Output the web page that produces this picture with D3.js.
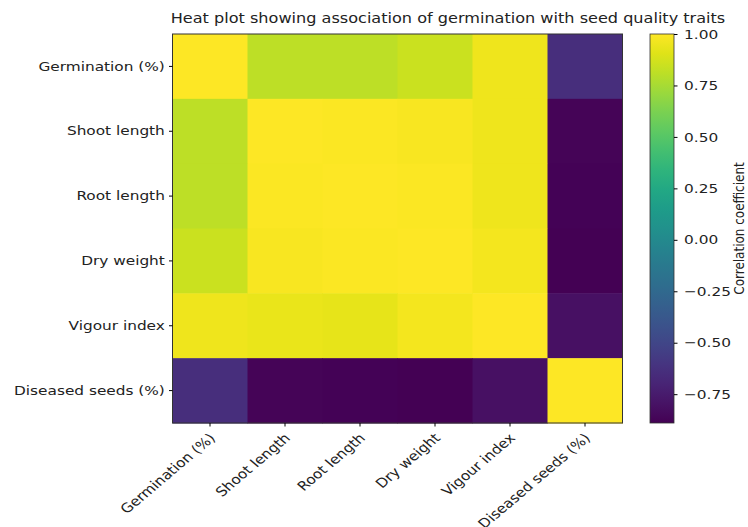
<!DOCTYPE html>
<html><head><meta charset="utf-8">
<script src="https://cdn.jsdelivr.net/npm/d3@7"></script>
<style>body{margin:0;background:#fff;} svg{display:block;} text{font-family:"DejaVu Sans",sans-serif;fill:#222;}</style>
</head><body><svg id="c" width="748" height="527"></svg>
<script>
const traits = ["Germination (%)","Shoot length","Root length","Dry weight","Vigour index","Diseased seeds (%)"];
const rowGermination = [1.00, 0.81, 0.81, 0.85, 0.95, -0.64];
const rowShoot       = [0.81, 1.00, 0.99, 0.98, 0.95, -0.87];
const rowRoot        = [0.81, 0.99, 1.00, 0.99, 0.95, -0.88];
const rowDry         = [0.85, 0.98, 0.99, 1.00, 0.97, -0.89];
const rowVigour      = [0.95, 0.94, 0.93, 0.97, 1.00, -0.81];
const rowDiseased    = [-0.64, -0.87, -0.88, -0.89, -0.81, 1.00];
const matrix = [rowGermination,rowShoot,rowRoot,rowDry,rowVigour,rowDiseased];
const cbTicks = [1.00,0.75,0.50,0.25,0.00,-0.25,-0.50,-0.75];
const title = "Heat plot showing association of germination with seed quality traits";
const cbLabel = "Correlation coefficient";

const sx = 1.18; // horizontal text stretch seen in the reference
const svg = d3.select("#c");
const L=172.5, R=622.5, T=34, B=423;
const x = d3.scaleBand().domain(traits).range([L,R]);
const y = d3.scaleBand().domain(traits).range([T,B]);
const all = matrix.flat();
const vmin = d3.min(all), vmax = d3.max(all);
const color = d3.scaleSequential(d3.interpolateViridis).domain([vmin,vmax]);

const cells = [];
matrix.forEach((row,i)=>row.forEach((v,j)=>cells.push({r:traits[i],c:traits[j],v})));
svg.append("g").selectAll("rect").data(cells).join("rect")
  .attr("x",d=>x(d.c)).attr("y",d=>y(d.r))
  .attr("width",x.bandwidth()+0.5).attr("height",y.bandwidth()+0.5)
  .attr("fill",d=>color(d.v));
svg.append("rect").attr("x",L).attr("y",T).attr("width",R-L).attr("height",B-T)
  .attr("fill","none").attr("stroke","#333").attr("stroke-width",1);

const fs = "13px";
const yAxis = svg.append("g").attr("transform",`translate(${L},0)`)
  .call(d3.axisLeft(y).tickSize(3.5).tickPadding(3));
yAxis.select(".domain").remove();
yAxis.selectAll("text").style("font-size",fs).attr("fill","#222")
  .attr("transform",`scale(${sx},1)`);
const xAxis = svg.append("g").attr("transform",`translate(0,${B})`)
  .call(d3.axisBottom(x).tickSize(3.5).tickPadding(3));
xAxis.select(".domain").remove();
xAxis.selectAll("text").style("font-size",fs).attr("fill","#222")
  .attr("text-anchor","end").attr("dy","0.35em")
  .attr("transform",`translate(-3,8) scale(${sx},1) rotate(-45)`);

// colorbar
const cbX=650, cbW=24;
const cy = d3.scaleLinear().domain([vmin,vmax]).range([B,T]);
const defs = svg.append("defs");
const grad = defs.append("linearGradient").attr("id","g").attr("x1",0).attr("y1",1).attr("x2",0).attr("y2",0);
d3.range(0,1.0001,0.05).forEach(t=>grad.append("stop").attr("offset",t).attr("stop-color",d3.interpolateViridis(t)));
svg.append("rect").attr("x",cbX).attr("y",T).attr("width",cbW).attr("height",B-T)
  .attr("fill","url(#g)").attr("stroke","#333").attr("stroke-width",0.8);
const cbAxis = svg.append("g").attr("transform",`translate(${cbX+cbW},0)`)
  .call(d3.axisRight(cy).tickValues(cbTicks).tickSize(3.5).tickPadding(5)
    .tickFormat(d=>d3.format(".2f")(d).replace("-","\u2212")));
cbAxis.select(".domain").remove();
cbAxis.selectAll("text").style("font-size",fs).attr("fill","#222")
  .attr("transform",`scale(${sx},1)`);
svg.append("text").attr("transform",`translate(744,${(T+B)/2}) scale(${sx},1) rotate(-90)`)
  .attr("text-anchor","middle").style("font-size","12px").text(cbLabel);

svg.append("text").attr("transform",`translate(448,23) scale(1.15,1)`).attr("text-anchor","middle")
  .style("font-size","14px").text(title);
</script></body></html>
